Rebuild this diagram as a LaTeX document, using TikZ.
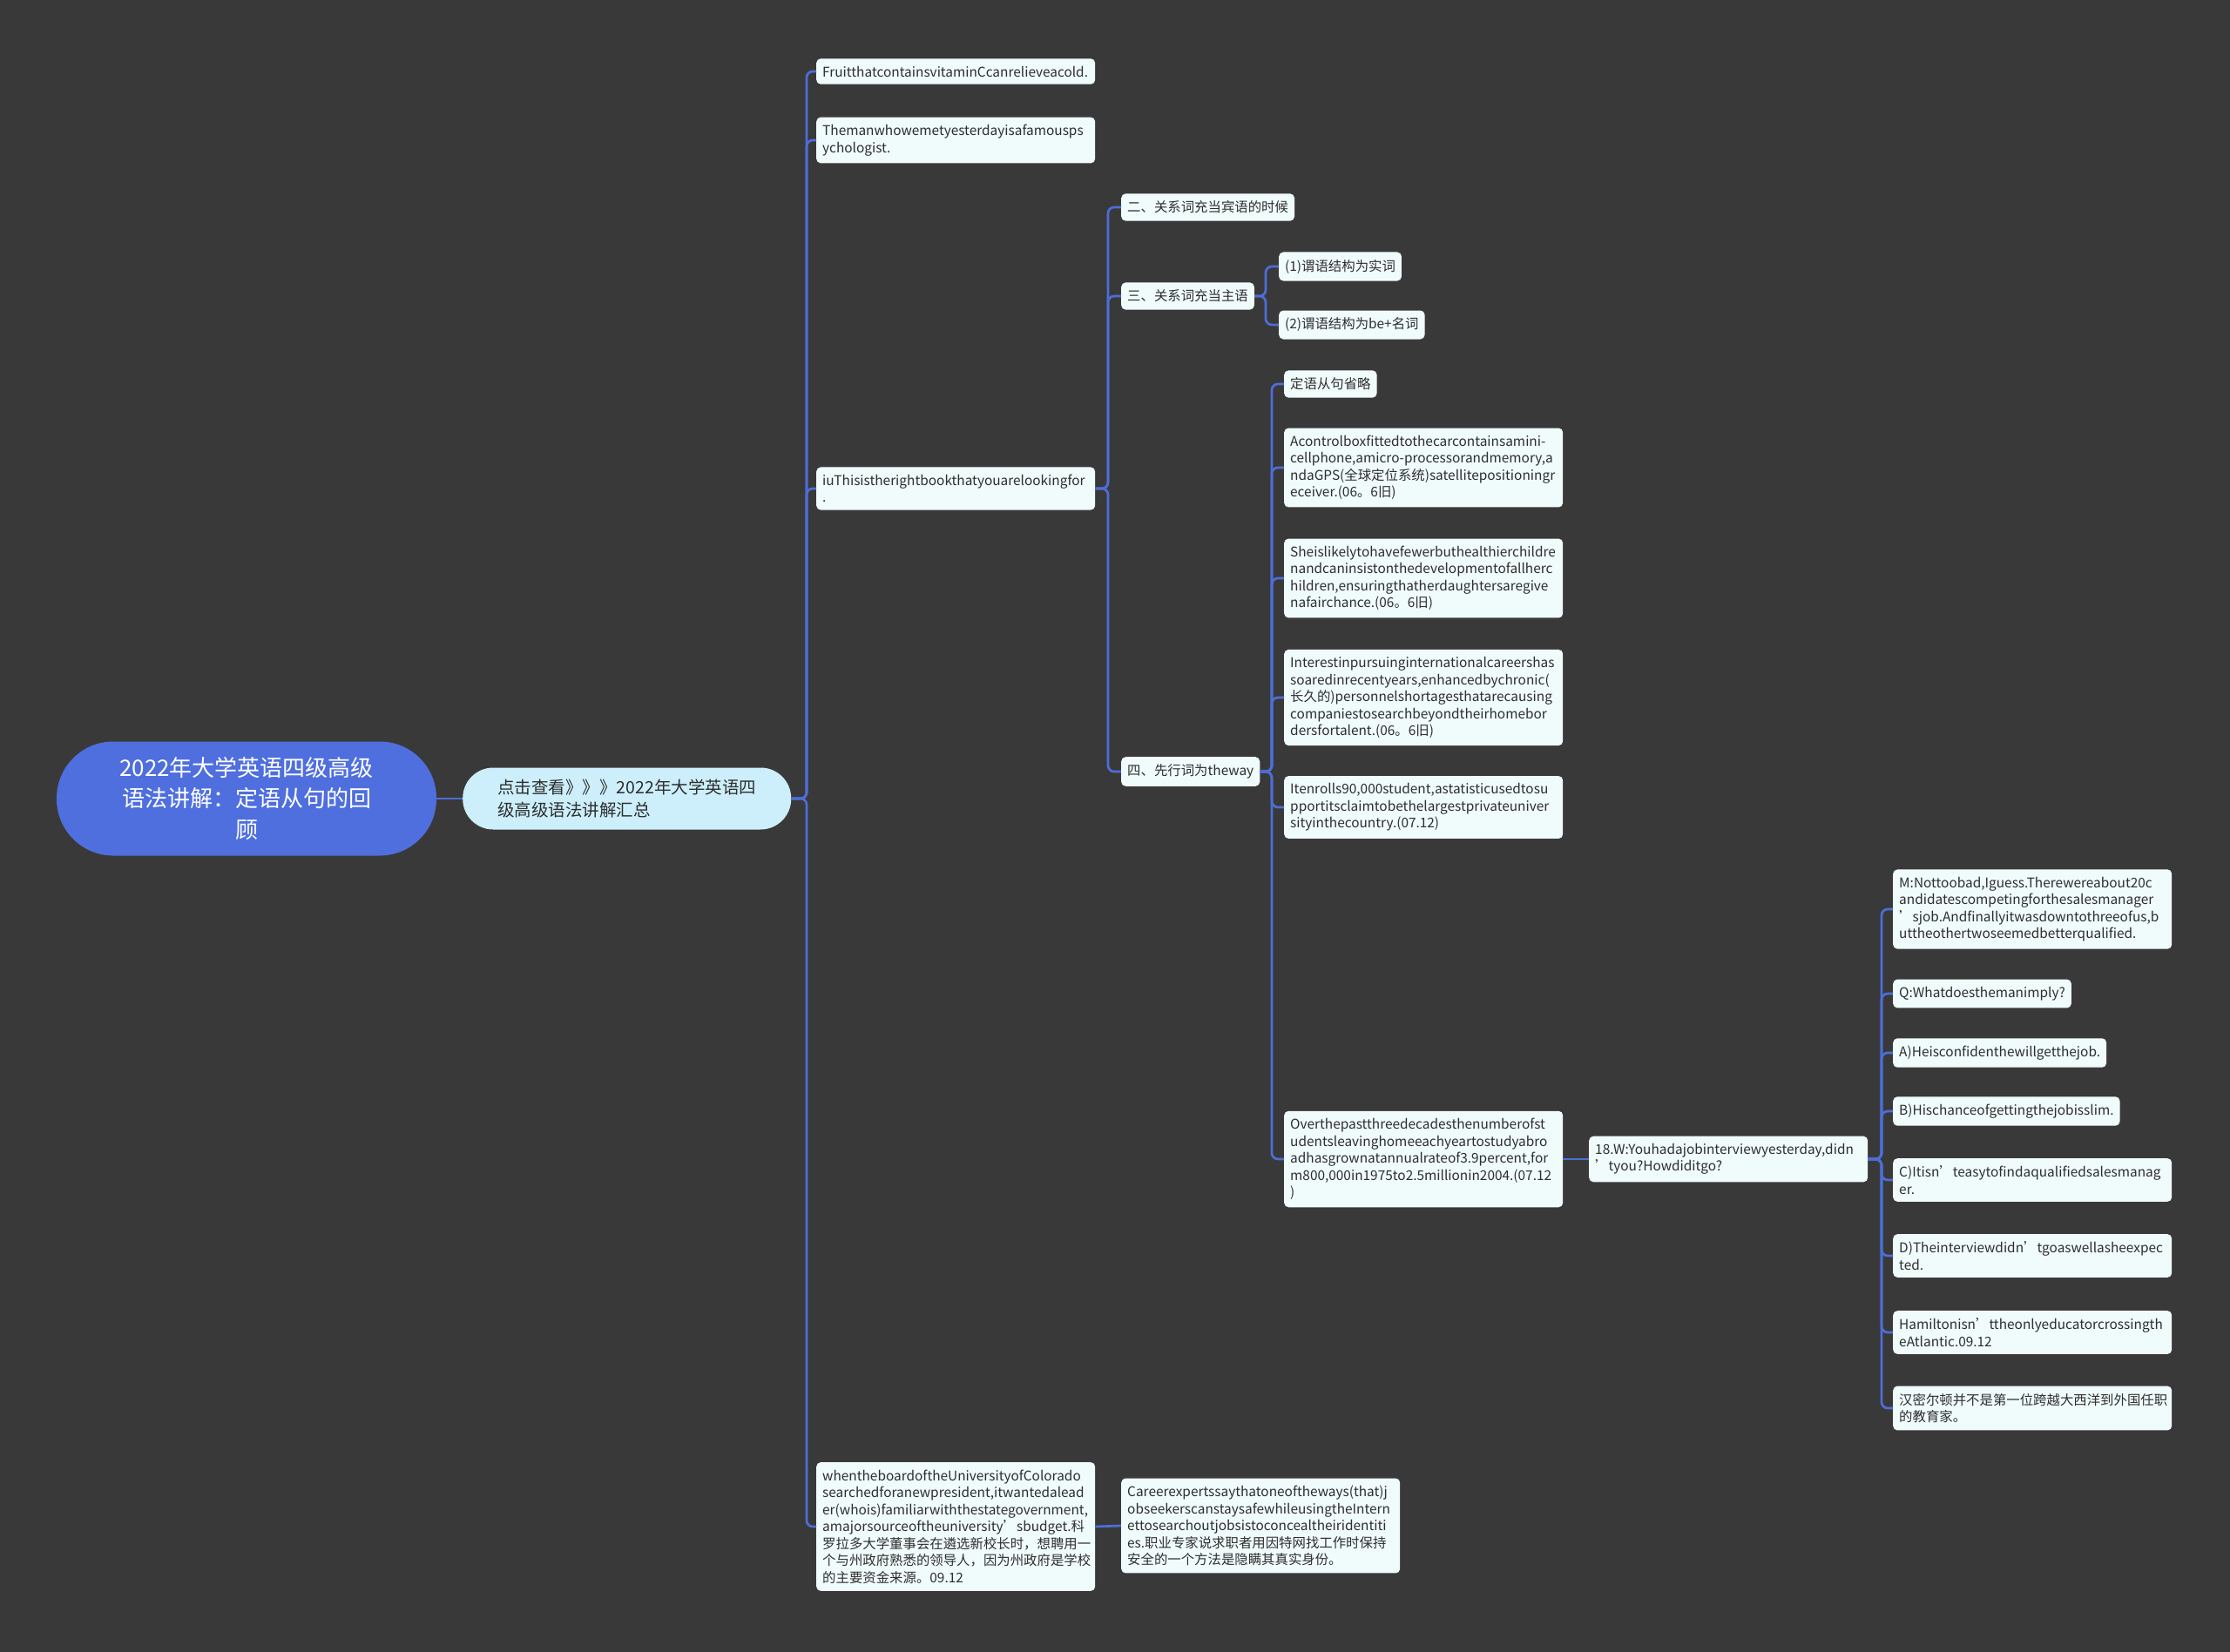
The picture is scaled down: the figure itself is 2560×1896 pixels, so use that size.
\documentclass[tikz,border=0pt]{standalone}
\usepackage{fontspec}
\setmainfont{Noto Sans CJK SC}
\usepackage{tikz}
\usetikzlibrary{calc,positioning}
\definecolor{bgc}{HTML}{3A3939}
\definecolor{linec}{HTML}{4D6ED8}
\definecolor{rootc}{HTML}{4F6FDE}
\definecolor{subc}{HTML}{CCEFFB}
\definecolor{boxc}{HTML}{F0FBFC}
\definecolor{txtc}{HTML}{2E2E2E}
\newcommand{\bxfont}{\fontsize{15.4}{19.5}\selectfont\hyphenpenalty=10000 \exhyphenpenalty=10000 }
\newcommand{\rtfont}{\fontsize{26}{35.5}\selectfont}
\newcommand{\smfont}{\fontsize{19.5}{26}\selectfont}
\tikzset{
  cn/.style={draw=linec,line width=2.7pt,rounded corners=7pt},
  bx/.style={anchor=west,fill=boxc,rounded corners=5pt,inner xsep=7pt,inner ysep=8.5pt,align=left,text=txtc,font=\bxfont},
  wb/.style={bx,text width=306pt},
  rootbox/.style={fill=rootc,text=white,rounded corners=65pt,minimum width=436pt,minimum height=131pt,align=center,font=\rtfont},
  subbox/.style={anchor=west,fill=subc,text=txtc,rounded corners=35pt,minimum width=377pt,minimum height=71pt,align=left,inner xsep=34pt,font=\smfont}
}
\begin{document}
\begin{tikzpicture}[x=1pt,y=-1pt]
\useasboundingbox (0,0) rectangle (2560,1896);
\fill[bgc] (-6,-6) rectangle (2566,1902);
% centre and first branch
\node[rootbox] (rt) at (283,917) {2022年大学英语四级高级\\语法讲解：定语从句的回\\顾};
\node[subbox] (sm) at (531,917) {点击查看》》》2022年大学英语四\\级高级语法讲解汇总};
% second level
\node[wb] (fa) at (937,82) {FruitthatcontainsvitaminCcanrelieveacold.};
\node[wb] (fb) at (937,161) {Themanwhowemetyesterdayisafamousps\\ychologist.};
\node[wb] (fc) at (937,561) {iuThisistherightbookthatyouarelookingfor\\.};
\node[wb] (fd) at (937,1753) {whentheboardoftheUniversityofColorado\\searchedforanewpresident,itwantedalead\\er(whois)familiarwiththestategovernment,\\amajorsourceoftheuniversity’sbudget.科\\罗拉多大学董事会在遴选新校长时，想聘用一\\个与州政府熟悉的领导人，因为州政府是学校\\的主要资金来源。09.12};
% under fc
\node[bx] (g2) at (1287,238) {二、关系词充当宾语的时候};
\node[bx] (g3) at (1287,340) {三、关系词充当主语};
\node[bx] (g4) at (1287,886) {四、先行词为theway};
\node[bx] (h1) at (1468,306) {(1)谓语结构为实词};
\node[bx] (h2) at (1468,373) {(2)谓语结构为be+名词};
% under g4
\node[bx] (k1) at (1474,441) {定语从句省略};
\node[wb] (k2) at (1474,537) {Acontrolboxfittedtothecarcontainsamini-\\cellphone,amicro-processorandmemory,a\\ndaGPS(全球定位系统)satellitepositioningr\\eceiver.(06。6旧)};
\node[wb] (k3) at (1474,664) {Sheislikelytohavefewerbuthealthierchildre\\nandcaninsistonthedevelopmentofallherc\\hildren,ensuringthatherdaughtersaregive\\nafairchance.(06。6旧)};
\node[wb] (k4) at (1474,801) {Interestinpursuinginternationalcareershas\\soaredinrecentyears,enhancedbychronic(\\长久的)personnelshortagesthatarecausing\\companiestosearchbeyondtheirhomebor\\dersfortalent.(06。6旧)};
\node[wb] (k5) at (1474,927) {Itenrolls90,000student,astatisticusedtosu\\pportitsclaimtobethelargestprivateuniver\\sityinthecountry.(07.12)};
\node[wb] (k6) at (1474,1331) {Overthepastthreedecadesthenumberofst\\udentsleavinghomeeachyeartostudyabro\\adhasgrownatannualrateof3.9percent,for\\m800,000in1975to2.5millionin2004.(07.12\\)};
\node[wb] (w18) at (1824,1331) {18.W:Youhadajobinterviewyesterday,didn\\’tyou?Howdiditgo?};
% answers
\node[wb] (m1) at (2173,1044) {M:Nottoobad,Iguess.Therewereabout20c\\andidatescompetingforthesalesmanager\\’sjob.Andfinallyitwasdowntothreeofus,b\\uttheothertwoseemedbetterqualified.};
\node[bx] (m2) at (2173,1141) {Q:Whatdoesthemanimply?};
\node[bx] (m3) at (2173,1209) {A)Heisconfidenthewillgetthejob.};
\node[bx] (m4) at (2173,1276) {B)Hischanceofgettingthejobisslim.};
\node[wb] (m5) at (2173,1355) {C)Itisn’teasytofindaqualifiedsalesmanag\\er.};
\node[wb] (m6) at (2173,1442) {D)Theinterviewdidn’tgoaswellasheexpec\\ted.};
\node[wb] (m7) at (2173,1530) {Hamiltonisn’ttheonlyeducatorcrossingth\\eAtlantic.09.12};
\node[wb] (m8) at (2173,1617) {汉密尔顿并不是第一位跨越大西洋到外国任职\\的教育家。};
\node[wb] (cr) at (1287,1752) {Careerexpertssaythatoneoftheways(that)j\\obseekerscanstaysafewhileusingtheIntern\\ettosearchoutjobsistoconcealtheiridentiti\\es.职业专家说求职者用因特网找工作时保持\\安全的一个方法是隐瞒其真实身份。};
% trunks
\coordinate (ta) at (926,0);
\coordinate (tb) at (1272,0);
\coordinate (tc) at (1453,0);
\coordinate (td) at (1460,0);
\coordinate (te) at (2160,0);
\foreach \p/\c/\t in {sm/fa/ta,sm/fb/ta,sm/fc/ta,sm/fd/ta,fc/g2/tb,fc/g3/tb,fc/g4/tb,g3/h1/tc,g3/h2/tc,
  g4/k1/td,g4/k2/td,g4/k3/td,g4/k4/td,g4/k5/td,g4/k6/td,w18/m1/te,w18/m2/te,w18/m3/te,w18/m4/te,
  w18/m5/te,w18/m6/te,w18/m7/te,w18/m8/te}
  \draw[cn] (\p.east) -- (\p.east -| \t) |- (\c.west);
\foreach \p/\c in {rt/sm,k6/w18,fd/cr}
  \draw[cn] (\p.east) -- (\c.west);
\end{tikzpicture}
\end{document}
